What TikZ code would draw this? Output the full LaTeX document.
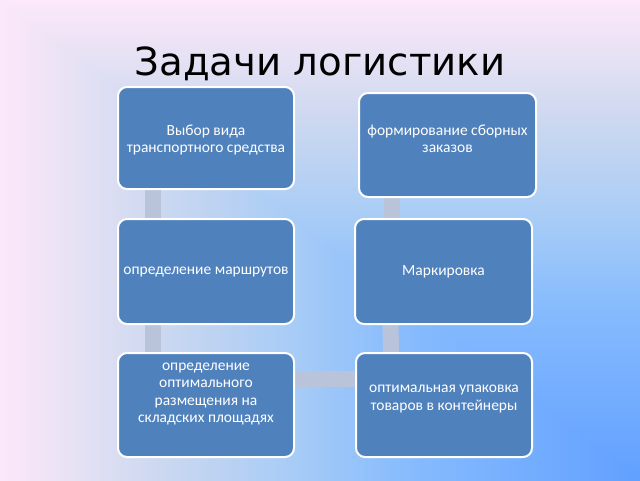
\documentclass[tikz,border=0pt]{standalone}
\usepackage{fontspec}
\setmainfont{Carlito}
\newfontfamily\titlefont{DejaVu Sans}
\usetikzlibrary{backgrounds,calc}
\definecolor{boxblue}{HTML}{4F81BD}
\definecolor{barcol}{HTML}{B9C3DA}
\definecolor{bgA}{HTML}{60A0FF}
\definecolor{bgB}{HTML}{6AA6FF}
\definecolor{bgC}{HTML}{86BBFD}
\definecolor{bgD}{HTML}{A8CCF6}
\definecolor{bgE}{HTML}{CCD8F0}
\definecolor{bgF}{HTML}{EBE3F5}
\definecolor{bgG}{HTML}{FCE8FA}
\pgfdeclarehorizontalshading{bghor}{100bp}{color(0bp)=(bgG); color(25bp)=(bgG); color(29.7bp)=(bgF); color(37.5bp)=(bgE); color(47.7bp)=(bgD); color(57bp)=(bgC); color(71.1bp)=(bgB); color(75bp)=(bgA); color(100bp)=(bgA)}
\pgfdeclareverticalshading{bgver}{100bp}{color(0bp)=(bgA); color(25bp)=(bgA); color(28.9bp)=(bgB); color(43bp)=(bgC); color(52.3bp)=(bgD); color(62.5bp)=(bgE); color(70.3bp)=(bgF); color(75bp)=(bgG); color(100bp)=(bgG)}
\begin{document}
\begin{tikzpicture}[x=1pt,y=-1pt,
  box/.style={draw=white, line width=2pt, fill=boxblue, rounded corners=9pt,
    minimum width=176pt, minimum height=102pt, inner sep=0pt},
  lbl/.style={text=white, font=\fontsize{15.5}{17.5}\selectfont, align=center, inner sep=0pt},
  bar/.style={draw=barcol, line width=16pt}]
\useasboundingbox (0,0) rectangle (640,480);
\begin{scope}[on background layer]
  \shade[shading=bghor] (0,0) rectangle (640,480);
  \begin{scope}
    \clip (0,0) -- (640,0) -- (640,480) -- cycle;
    \shade[shading=bgver] (0,0) rectangle (640,480);
  \end{scope}
\end{scope}
\node[font=\titlefont\fontsize{38.7}{46}\selectfont, anchor=base] (title) at (320,75) {Задачи логистики};
\node[box] (b1) at (206,138) {};
\node[box, minimum width=177pt, minimum height=104pt] (b2) at (447.5,145) {};
\node[box, minimum height=105pt] (b3) at (206,271.5) {};
\node[box, minimum width=177pt, minimum height=105pt] (b4) at (443.5,271.5) {};
\node[box, minimum height=104pt] (b5) at (206,405) {};
\node[box, minimum height=104pt] (b6) at (444,405) {};
\node[lbl] (t1) at ([yshift=-2pt]b1.center) {Выбор вида\\транспортного средства};
\node[lbl] (t2) at ([yshift=6pt]b2.center) {формирование сборных\\заказов};
\node[lbl] (t3) at (b3.center) {определение маршрутов};
\node[lbl] (t4) at (b4.center) {Маркировка};
\node[lbl] (t5) at ([yshift=11pt]b5.center) {определение\\оптимального\\размещения на\\складских площадях};
\node[lbl] (t6) at ([yshift=6pt]b6.center) {оптимальная упаковка\\товаров в контейнеры};
\begin{scope}[on background layer]
  \draw[bar] ([xshift=-53pt]b1.south) -- ([xshift=-53pt]b3.north);
  \draw[bar] ([xshift=-53pt]b3.south) -- ([xshift=-53pt]b5.north);
  \draw[bar] ([xshift=-56pt]b2.south) -- ([xshift=-56pt]b2.south |- b4.north);
  \draw[bar] ([xshift=-53pt]b4.south) -- ([xshift=-53pt]b6.north);
  \draw[bar] ([yshift=26.5pt]b5.east) -- ([yshift=26.5pt]b5.east -| b6.west);
\end{scope}
\end{tikzpicture}
\end{document}
